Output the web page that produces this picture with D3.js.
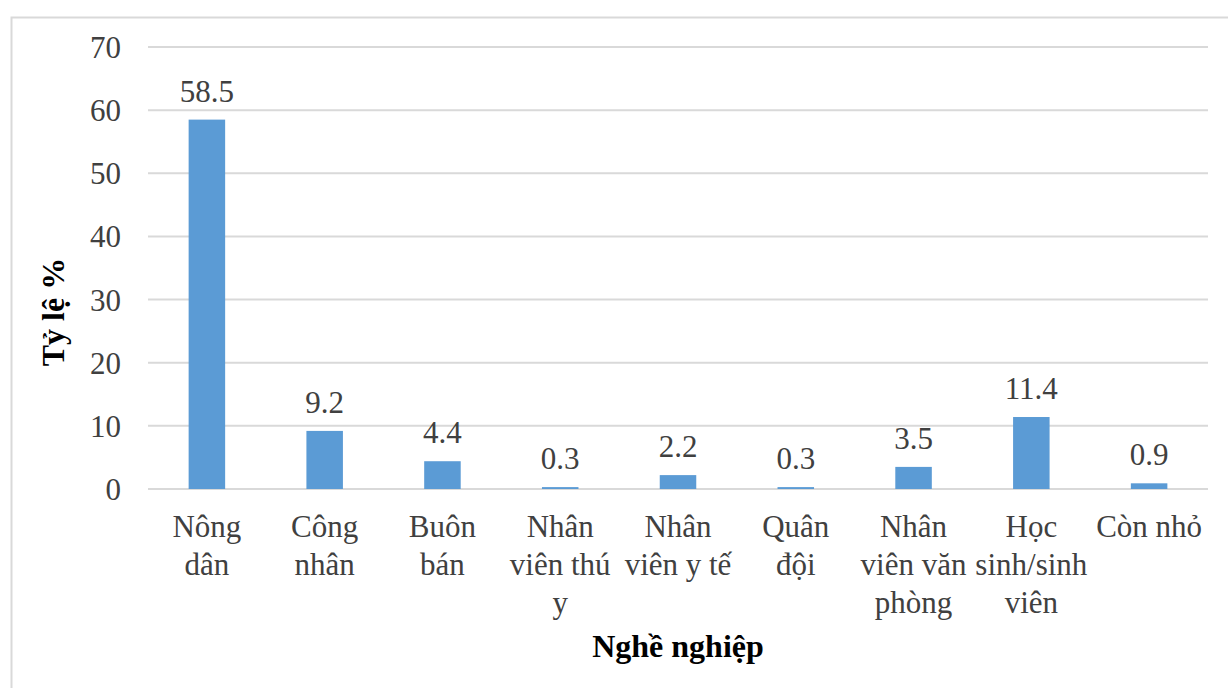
<!DOCTYPE html>
<html><head><meta charset="utf-8">
<script src="https://cdn.jsdelivr.net/npm/d3@7"></script>
<style>body{margin:0;background:#fff}svg{display:block}</style>
</head><body>
<script>
const categories = [
  ["Nông","dân"],
  ["Công","nhân"],
  ["Buôn","bán"],
  ["Nhân","viên thú","y"],
  ["Nhân","viên y tế"],
  ["Quân","đội"],
  ["Nhân","viên văn","phòng"],
  ["Học","sinh/sinh","viên"],
  ["Còn nhỏ"]
];
const values = [58.5, 9.2, 4.4, 0.3, 2.2, 0.3, 3.5, 11.4, 0.9];
const yTicks = [0,10,20,30,40,50,60,70];
const yTitle = "Tỷ lệ %";
const xTitle = "Nghề nghiệp";

const W = 1228, H = 688;
const m = {left:148, top:47};
const plotRight = 1208;
const font = "'Liberation Serif','Times New Roman',serif";
const textColor = "#404040";
const fs = 31;

const svg = d3.select("body").append("svg").attr("width", W).attr("height", H);

svg.append("rect").attr("x",11.5).attr("y",17.5).attr("width",W+10).attr("height",H+10)
  .attr("fill","none").attr("stroke","#d9d9d9").attr("stroke-width",2);

const idx = categories.map((d,i)=>i);
const x = d3.scaleBand().domain(idx).range([m.left, plotRight]).paddingInner(0.69).paddingOuter(0.345);
const y = d3.scaleLinear().domain([0,70]).range([489, 47]);

// gridlines
svg.append("g").selectAll("line").data(yTicks).join("line")
  .attr("x1", m.left).attr("x2", plotRight)
  .attr("y1", d=>y(d)).attr("y2", d=>y(d))
  .attr("stroke","#d9d9d9").attr("stroke-width",2);

// y axis labels
const yAxis = d3.axisLeft(y).tickValues(yTicks).tickSize(0).tickPadding(0);
const ya = svg.append("g").attr("transform","translate(121,0)").call(yAxis);
ya.select(".domain").remove();
ya.selectAll("text").attr("font-family",font).attr("font-size",fs).attr("fill",textColor).attr("dy","0.34em");

// bars
svg.append("g").selectAll("rect").data(values).join("rect")
  .attr("x",(d,i)=>x(i)).attr("width",x.bandwidth())
  .attr("y",d=>y(d)).attr("height",d=>y(0)-y(d))
  .attr("fill","#5b9bd5");

// value labels
svg.append("g").selectAll("text").data(values).join("text")
  .attr("x",(d,i)=>x(i)+x.bandwidth()/2).attr("y",d=>y(d)-18)
  .attr("text-anchor","middle").attr("font-family",font).attr("font-size",fs).attr("fill",textColor)
  .text(d=>d);

// category labels
const cg = svg.append("g").selectAll("text").data(categories).join("text")
  .attr("x",(d,i)=>x(i)+x.bandwidth()/2).attr("y",537)
  .attr("text-anchor","middle").attr("font-family",font).attr("font-size",fs).attr("fill",textColor);
cg.selectAll("tspan").data(d=>d).join("tspan")
  .attr("x",function(){return this.parentNode.getAttribute("x");})
  .attr("dy",(d,i)=>i===0?0:38).text(d=>d);

// axis titles
svg.append("text").attr("x",678).attr("y",657).attr("text-anchor","middle")
  .attr("font-family",font).attr("font-size",32).attr("font-weight","bold").attr("fill","#000").text(xTitle);
svg.append("text").attr("transform","translate(64,312) rotate(-90)").attr("text-anchor","middle")
  .attr("font-family",font).attr("font-size",32).attr("font-weight","bold").attr("fill","#000").text(yTitle);
</script>
</body></html>
